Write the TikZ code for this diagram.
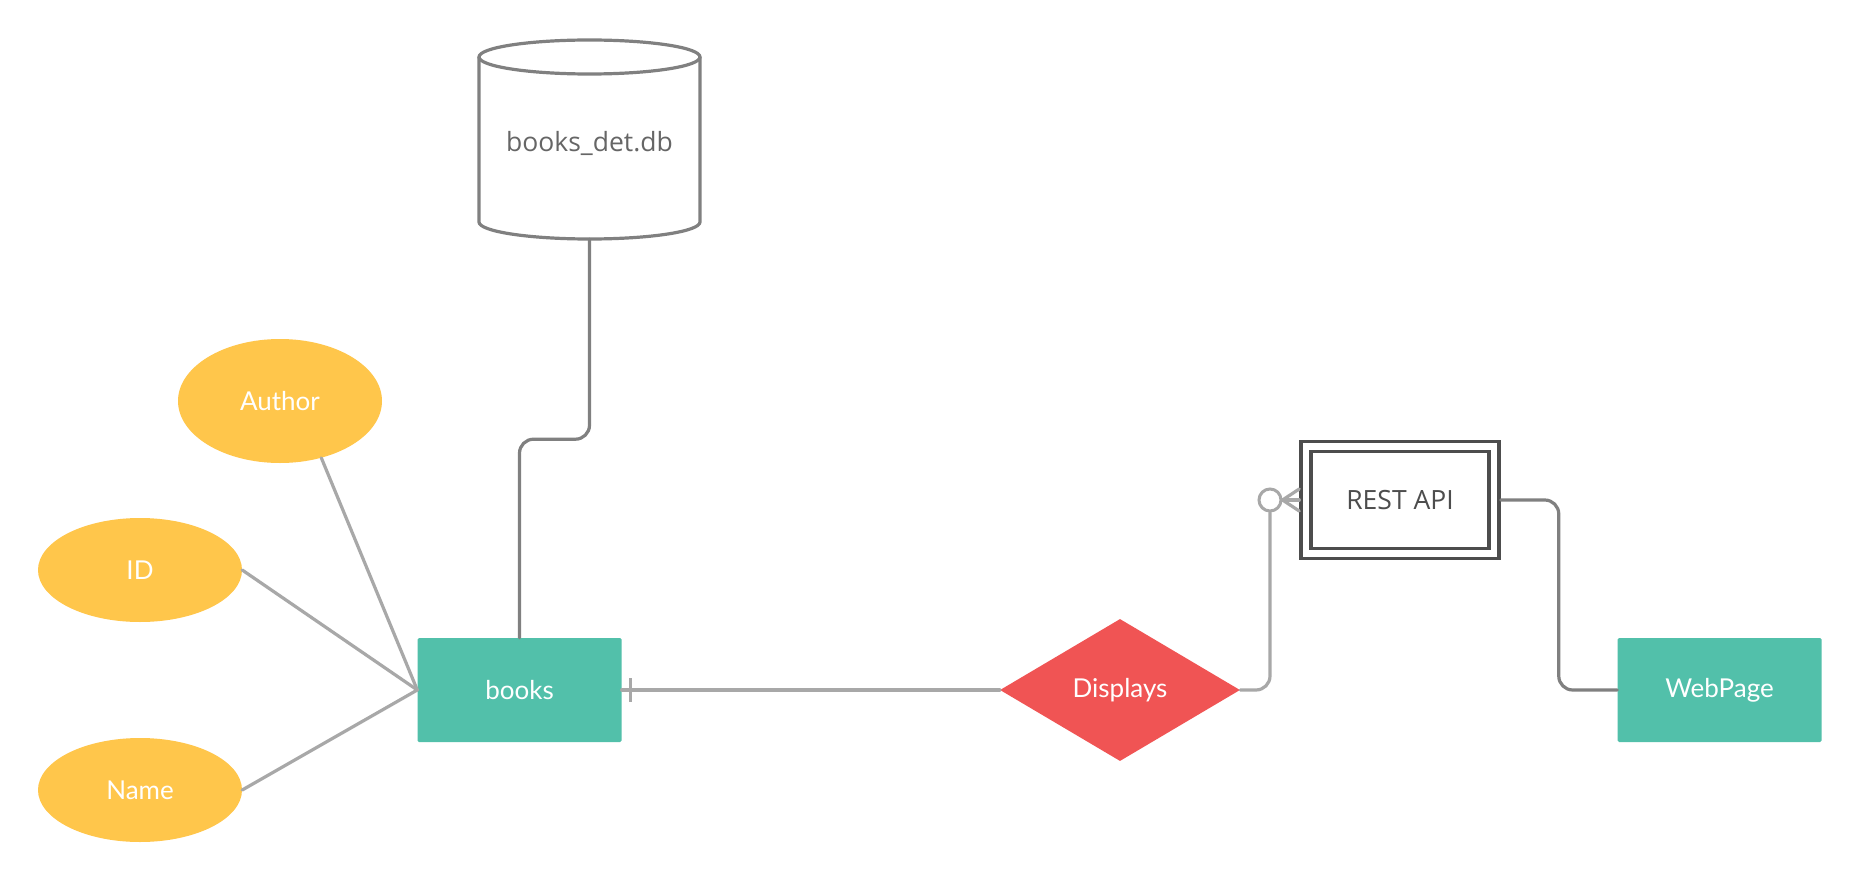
\documentclass[tikz,border=0pt]{standalone}
\usepackage{fontspec}
\setmainfont{Lato}
\newfontfamily\osans{Open Sans}
\usetikzlibrary{shapes.geometric}
\definecolor{entteal}{HTML}{52C0AA}
\definecolor{attryel}{HTML}{FFC64B}
\definecolor{relred}{HTML}{F05454}
\definecolor{lightln}{HTML}{A8A8A8}
\definecolor{darkln}{HTML}{808080}
\definecolor{apiborder}{HTML}{4D4D4D}
\definecolor{dbtext}{HTML}{666666}
\tikzset{
  entity/.style={rectangle, fill=entteal, minimum width=204, minimum height=104, rounded corners=1.5, text=white, font=\fontsize{26}{30}\selectfont},
  attr/.style={ellipse, fill=attryel, minimum width=204, minimum height=104, text=white, font=\fontsize{26}{30}\selectfont},
  rel/.style={diamond, fill=relred, aspect=1.69, minimum width=240, minimum height=142, inner sep=0, text=white, font=\fontsize{26}{30}\selectfont},
  apibox/.style={rectangle, draw=apiborder, line width=3.5},
  lightconn/.style={draw=lightln, line width=3.2, line cap=round},
  darkconn/.style={draw=darkln, line width=3.2, line cap=round},
  dbline/.style={draw=darkln, line width=3.2},
}
\begin{document}
\begin{tikzpicture}[x=1pt,y=-1pt]
\fill[white] (0,0) rectangle (1860,880);
\useasboundingbox (0,0) rectangle (1860,880);

% database cylinder
\draw[dbline, fill=white] (479,57) -- (479,222) arc[start angle=180, end angle=0, x radius=110.5, y radius=17] -- (700,57);
\draw[dbline, fill=white] (589.5,57) ellipse [x radius=110.5, y radius=17];
\node[minimum width=221, minimum height=199, inner sep=0] (db) at (589.5,139.5) {};
\node[text=dbtext, font=\osans\fontsize{26.5}{30}\selectfont] (dblabel) at (589.5,143) {books\_det.db};

% entities
\node[entity] (books) at (519.5,690) {books};
\node[entity] (web) at (1719.5,690) {WebPage};

% attributes
\node[attr, minimum height=124] (author) at (280,401) {Author};
\node[attr] (id) at (140,570) {ID};
\node[attr] (name) at (140,790) {Name};

% relationship
\node[rel] (disp) at (1120,690) {\raisebox{-3pt}{Displays}};

% weak entity REST API
\node[apibox, minimum width=198, minimum height=117] (api) at (1400,500) {};
\node[apibox, minimum width=178, minimum height=97, text=apiborder, font=\osans\fontsize{26.5}{30}\selectfont] (apiin) at (1400,500) {REST API};

% zero-or-many marker circle
\node[circle, draw=lightln, line width=3, minimum size=22, inner sep=0, fill=white] (zc) at (1270,500) {};

% connectors
\draw[lightconn] (author.-54) -- (books.west);
\draw[lightconn] (id.east) -- (books.west);
\draw[lightconn] (name.east) -- (books.west);

\draw[darkconn, rounded corners=14] (db.south) -- ++(0,200) -| (books.north);

\draw[lightconn] (books.east) -- (disp.west);
\draw[draw=lightln, line width=3] ([xshift=9]books.east) ++(0,-12) -- ++(0,24);

\draw[lightconn, rounded corners=14] (disp.east) -| (zc.south);
\draw[lightconn] (zc.east) -- (api.west);
\draw[lightconn] (zc.east) -- ([yshift=11]api.west);
\draw[lightconn] (zc.east) -- ([yshift=-11]api.west);

\draw[darkconn, rounded corners=14] (api.east) -- ++(58,0) |- (web.west);
\end{tikzpicture}
\end{document}
